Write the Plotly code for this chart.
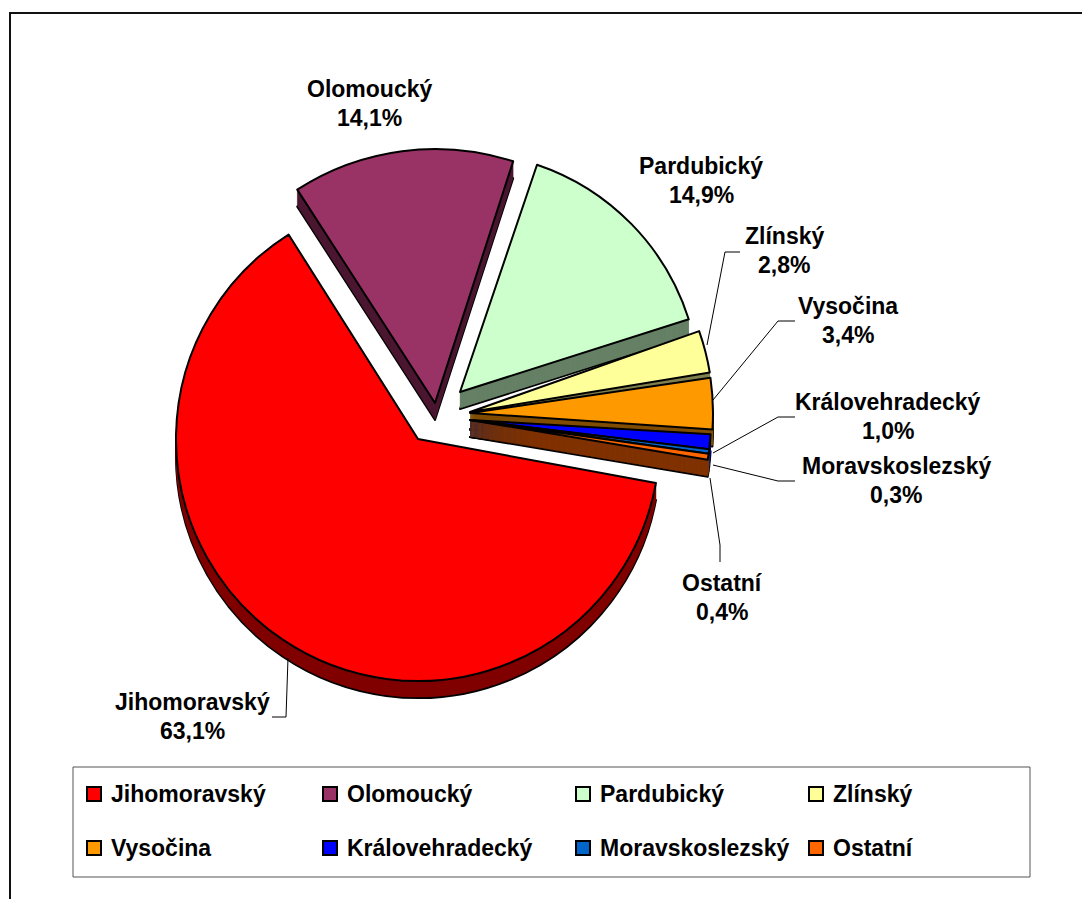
import plotly.graph_objects as go

W, H = 1082, 899
categories = ["Jihomoravský", "Olomoucký", "Pardubický", "Zlínský", "Vysočina",
              "Královehradecký", "Moravskoslezský", "Ostatní"]
values = [63.1, 14.1, 14.9, 2.8, 3.4, 1.0, 0.3, 0.4]
colors = ["#FF0000", "#993366", "#CCFFCC", "#FFFF99", "#FF9900", "#0000FF", "#0066CC", "#FF6600"]
side_colors = ["#800000", "#4D1933", "#668066", "#808050", "#804D00", "#000080", "#003366", "#803300"]
label_centers = [(192, 716), (369, 104), (701, 180), (784, 250), (848, 320), (888, 416), (896, 480), (722, 597)]
leaders = [
    [(288, 658), (286, 717), (272, 717)],
    [],
    [],
    [(707, 345), (725, 252), (740, 252)],
    [(713, 400), (778, 321), (795, 321)],
    [(713, 453), (778, 417), (795, 417)],
    [(713, 465), (778, 481), (795, 481)],
    [(710, 478), (720, 545), (720, 562)],
]
legend_cols = [87, 323, 576, 809]
legend_rows = [794, 848]
# exploded groups of slices: members, apex x, apex y, radius, start angle
groups = [
    ([0], 418, 439, 242, 100.5),
    ([1], 435, 403, 254, 100),
    ([2], 460, 392, 240, 100.8),
    ([3], 470, 412, 243, 99),
    ([4], 470, 413, 243, 100),
    ([5, 6, 7], 470, 420, 241, 99.5),
]

DEPTH = 17
FONT = "Liberation Sans"
CLEAR = "rgba(0,0,0,0)"


def fx(p):
    return p / W


def fy(p):
    return 1 - p / H


def pie(group, dy, fill, line_color, line_width):
    members, ax, ay, r, rot = group
    n = len(values)
    return go.Pie(
        labels=categories, values=values, sort=False, direction="clockwise", rotation=rot,
        textinfo="none", hoverinfo="label+percent", showlegend=False,
        marker=dict(
            colors=[fill[i] if i in members else CLEAR for i in range(n)],
            line=dict(color=[(line_color[i] if i in members else CLEAR) for i in range(n)],
                      width=[line_width if i in members else 0 for i in range(n)]),
        ),
        domain=dict(x=[fx(ax - r), fx(ax + r)], y=[fy(ay + dy + r), fy(ay + dy - r)]),
    )


black = ["#000000"] * len(values)
fig = go.Figure()
for g in groups:
    fig.add_trace(pie(g, DEPTH, side_colors, black, 2))
    for d in range(DEPTH - 1, 0, -1):
        fig.add_trace(pie(g, d, side_colors, side_colors, 0.5))
for g in groups:
    fig.add_trace(pie(g, 0, colors, black, 2))

shapes = [
    dict(type="path", path=f"M {fx(10)} 0 L {fx(10)} {fy(13)} L 1 {fy(13)}", xref="paper", yref="paper",
         line=dict(color="#111111", width=2)),
    dict(type="rect", x0=fx(73), x1=fx(1030), y0=fy(767), y1=fy(877), xref="paper", yref="paper",
         line=dict(color="#555555", width=1), fillcolor="white"),
]
annotations = []
txt = dict(family=FONT, size=23, color="black", weight="bold")
for name, v, (x, y), path in zip(categories, values, label_centers, leaders):
    for line, yy in ((name, y - 14.5), (f"{v:.1f}%".replace(".", ","), y + 14.5)):
        annotations.append(dict(text=line, x=fx(x), y=fy(yy), xref="paper", yref="paper",
                                showarrow=False, xanchor="center", yanchor="middle", font=txt))
    if path:
        d = "M " + " L ".join(f"{fx(a)} {fy(b)}" for a, b in path)
        shapes.append(dict(type="path", path=d, xref="paper", yref="paper",
                           line=dict(color="black", width=1)))

for i, (name, col) in enumerate(zip(categories, colors)):
    x = legend_cols[i % 4]
    y = legend_rows[i // 4]
    shapes.append(dict(type="rect", x0=fx(x), x1=fx(x + 14), y0=fy(y + 7), y1=fy(y - 7),
                       xref="paper", yref="paper", fillcolor=col, line=dict(color="black", width=2)))
    annotations.append(dict(text=name, x=fx(x + 22), y=fy(y), xref="paper", yref="paper",
                            showarrow=False, xanchor="left", yanchor="middle", font=txt))

fig.update_layout(width=W, height=H, margin=dict(l=0, r=0, t=0, b=0), paper_bgcolor="white",
                  shapes=shapes, annotations=annotations, showlegend=False)
fig.write_html("out.html", config=dict(displayModeBar=False),
               post_script="document.body.style.margin='0';document.documentElement.style.overflow='hidden';")
